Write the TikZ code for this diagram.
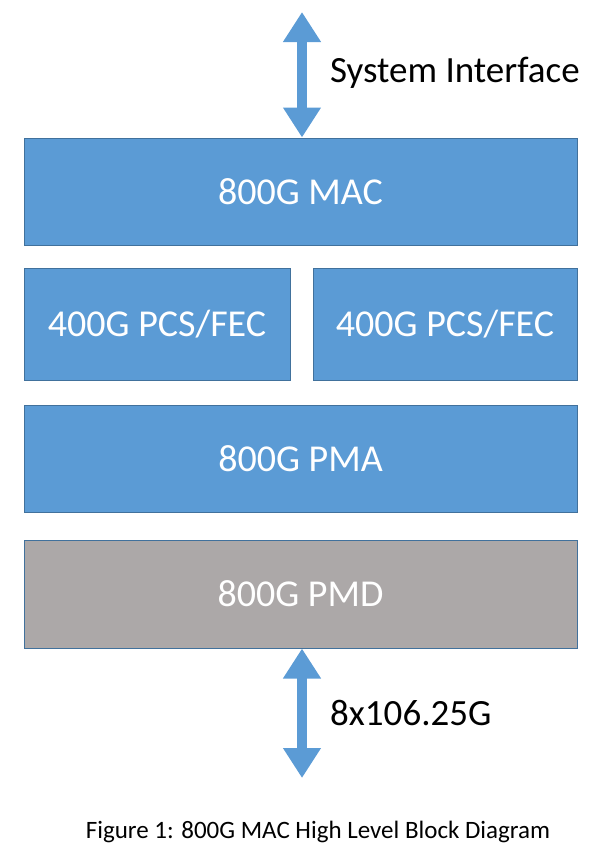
\documentclass[tikz,border=0pt]{standalone}
\usepackage{fontspec}
\setmainfont{Carlito}
\usetikzlibrary{arrows.meta}

\definecolor{blockblue}{HTML}{5B9BD5}
\definecolor{blockedge}{HTML}{41719C}
\definecolor{blockgray}{HTML}{ACA8A8}

\tikzset{
  block/.style={draw=blockedge, line width=1pt, fill=blockblue, text=white,
    inner sep=0pt, font=\fontsize{38}{44}\selectfont},
  bigarrow/.style={blockblue, line width=10pt,
    {Triangle[length=30pt,width=36pt]}-{Triangle[length=30pt,width=36pt]}},
  label/.style={anchor=west, inner sep=0pt, font=\fontsize{37}{43}\selectfont}
}

\begin{document}
\begin{tikzpicture}[x=1pt,y=-1pt]
      \useasboundingbox (0,0) rectangle (600,863);
      \def\boxw{553}

      \node[block, minimum width=\boxw pt, minimum height=107pt] (mac) at (300.5,191.5) {800G MAC};
      \node[block, minimum width=266pt, minimum height=112pt] (pcsa) at (157,324) {400G PCS/FEC};
      \node[block, minimum width=264pt, minimum height=112pt] (pcsb) at (445,324) {400G PCS/FEC};
      \node[block, minimum width=\boxw pt, minimum height=107pt] (pma) at (300.5,458.5) {800G PMA};
      \node[block, fill=blockgray, minimum width=\boxw pt, minimum height=108pt] (pmd) at (300.5,594) {800G PMD};

      \coordinate (systop) at (302,12);
      \coordinate (linebot) at (302,778);
      \draw[bigarrow] (systop) -- (systop |- mac.north);
      \draw[bigarrow] (linebot |- pmd.south) -- (linebot);

      \node[label] (sys) at (330,73) {System Interface};
      \node[label] (lanes) at (330,713) {8x106.25G};
      \node[inner sep=0pt, font=\fontsize{25}{29}\selectfont] (caption) at (318,832) {Figure 1: 800G MAC High Level Block Diagram};

    \end{tikzpicture}
\end{document}
